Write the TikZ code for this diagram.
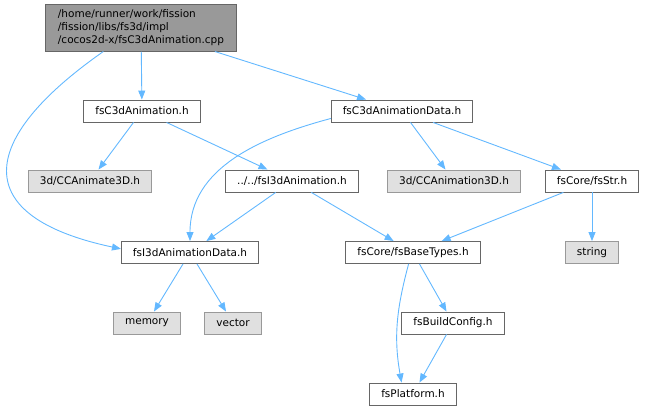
\documentclass[tikz,border=0pt]{standalone}
\usepackage{fontspec}
\setmainfont{DejaVu Sans}
\usetikzlibrary{arrows.meta}
\definecolor{edgeblue}{HTML}{63B8FF}
\definecolor{darkline}{HTML}{666666}
\definecolor{lightline}{HTML}{999999}
\definecolor{sysfill}{HTML}{E0E0E0}
\tikzset{file/.style={rectangle,draw=darkline,fill=white,line width=0.9pt,inner xsep=11.5pt,inner ysep=0pt,minimum height=22pt,font=\fontsize{10.5}{13}\selectfont}}
\tikzset{sysfile/.style={file,draw=lightline,fill=sysfill}}
\tikzset{mainfile/.style={file,fill=lightline,align=left,inner xsep=12pt,inner ysep=5pt}}
\tikzset{dep/.style={edgeblue,line width=0.9pt,-{Triangle[length=9pt,width=7pt]}}}

\begin{document}
\begin{tikzpicture}[x=1pt,y=1pt]
    \useasboundingbox (0,0) rectangle (646,-411);
    \node[mainfile] (cpp) at (141,-28) {/home/runner/work/fission\\/fission/libs/fs3d/impl\\/cocos2d-x/fsC3dAnimation.cpp};
    \node[file] (anim) at (142,-111) {fsC3dAnimation.h};
    \node[file] (data) at (402,-111) {fsC3dAnimationData.h};
    \node[sysfile] (animate) at (90,-181) {3d/CCAnimate3D.h};
    \node[file] (ianim) at (292,-181) {../../fsI3dAnimation.h};
    \node[sysfile] (animation) at (454,-181) {3d/CCAnimation3D.h};
    \node[file] (str) at (592,-181) {fsCore/fsStr.h};
    \node[file] (idata) at (190,-252.5) {fsI3dAnimationData.h};
    \node[file] (base) at (413,-252.5) {fsCore/fsBaseTypes.h};
    \node[sysfile] (string) at (592,-252.5) {string};
    \node[sysfile] (memory) at (147,-323) {memory};
    \node[sysfile] (vector) at (233,-323) {vector};
    \node[file] (config) at (453,-323) {fsBuildConfig.h};
    \node[file] (platform) at (413,-394) {fsPlatform.h};
    \draw[dep] (cpp) -- (anim);
    \draw[dep] (cpp) -- (data);
    \draw[dep] (cpp.-148) to[out=-145,in=168,looseness=2] (idata.177);
    \draw[dep] (anim) -- (animate);
    \draw[dep] (anim) -- (ianim);
    \draw[dep] (data.186) to[out=195,in=90] (idata.north);
    \draw[dep] (data) -- (animation);
    \draw[dep] (data) -- (str);
    \draw[dep] (ianim) -- (idata);
    \draw[dep] (ianim) -- (base);
    \draw[dep] (str) -- (base);
    \draw[dep] (str) -- (string);
    \draw[dep] (idata) -- (memory);
    \draw[dep] (idata) -- (vector);
    \draw[dep] (base) -- (config);
    \draw[dep] (base.-111) to[out=-105,in=100] (platform.135);
    \draw[dep] (config) -- (platform);
  \end{tikzpicture}
\end{document}
